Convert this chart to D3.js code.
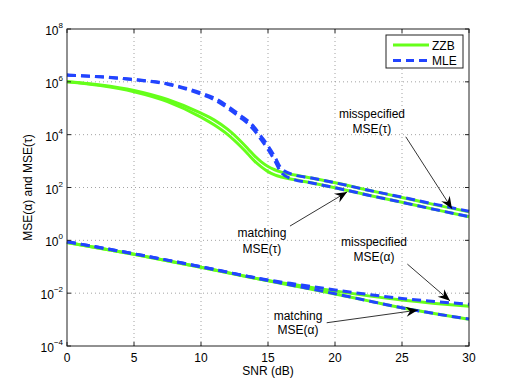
<!DOCTYPE html>
<html><head><meta charset="utf-8">
<script src="https://cdn.jsdelivr.net/npm/d3@7"></script>
<style>
body{margin:0;background:#fff;}
text{font-family:"Liberation Sans",Arial,Helvetica,sans-serif;fill:#000;}
</style>
</head><body>
<svg id="chart" width="518" height="390"></svg>
<script>
// ---------- data ----------
const snrTau = [0, 2.5, 5, 7.5, 10, 11, 12, 13, 13.5, 14, 14.5, 15, 15.5, 16, 17, 18, 20, 22.5, 25, 27.5, 30];
const zzbMisTau   = [1.0e6, 7.6e5, 4.7e5, 2.14e5, 6.5e4, 3.55e4, 1.58e4, 5.4e3, 2.95e3, 1.58e3, 9.3e2, 6.2e2, 4.7e2, 3.8e2, 2.95e2, 2.4e2, 1.51e2, 79, 42, 22, 12];
const zzbMatchTau = [1.0e6, 7.2e5, 4.2e5, 1.78e5, 4.6e4, 2.3e4, 1.0e4, 3.4e3, 1.86e3, 1.0e3, 6.0e2, 4.0e2, 3.0e2, 2.5e2, 1.95e2, 1.58e2, 98, 51, 27.5, 14.5, 7.8];
const mleMisTau   = [1.8e6, 1.55e6, 1.23e6, 8.5e5, 3.8e5, 2.45e5, 1.2e5, 5.1e4, 3.3e4, 1.86e4, 8.5e3, 3.8e3, 1.48e3, 5.2e2, 2.95e2, 2.4e2, 1.51e2, 79, 43, 23, 12.6];
const mleMatchTau = [1.8e6, 1.55e6, 1.2e6, 8.1e5, 3.4e5, 2.1e5, 1.0e5, 4.2e4, 2.6e4, 1.41e4, 6.3e3, 2.75e3, 1.05e3, 3.6e2, 1.95e2, 1.58e2, 98, 51, 27.5, 14.5, 7.9];

const snrAlpha = [0, 5, 10, 15, 17.5, 20, 22.5, 25, 27.5, 30];
const zzbMatchAlpha = [0.83, 0.295, 0.095, 0.0295, 0.0166, 0.0093, 0.0051, 0.0028, 0.00166, 0.00102];
const mleMatchAlpha = [0.89, 0.31, 0.10, 0.030, 0.017, 0.0095, 0.0051, 0.0028, 0.00166, 0.00105];
const zzbMisAlpha   = [0.83, 0.295, 0.095, 0.030, 0.019, 0.012, 0.0079, 0.0055, 0.0041, 0.0032];
const mleMisAlpha   = [0.89, 0.31, 0.10, 0.0316, 0.0204, 0.0132, 0.0089, 0.0063, 0.0048, 0.0038];

const xTicks = [0, 5, 10, 15, 20, 25, 30];
const yTickExps = [-4, -2, 0, 2, 4, 6, 8];
const legendNames = ["ZZB", "MLE"];

// annotations in data units: text anchor (snr, log10 of line centres) and arrow (from -> to)
const annoLines = [["misspecified", "MSE(\u03C4)"], ["matching", "MSE(\u03C4)"], ["misspecified", "MSE(\u03B1)"], ["matching", "MSE(\u03B1)"]];
const annoTextSnr = [22.76, 14.55, 22.91, 17.24];
const annoTextLog = [[4.78, 4.21], [0.28, -0.33], [-0.06, -0.63], [-2.87, -3.40]];
const annoFrom = [[25.28, 3.92], [16.64, 0.54], [25.4, -0.9], [19.38, -3.12]];
const annoTo   = [[28.73, 1.20], [20.9, 1.83], [28.58, -2.29], [26.19, -2.64]];

// ---------- layout ----------
const L = 67, R = 469, T = 29, B = 346;
const green = "#66ff1a", blue = "#2244ff";
const svg = d3.select("#chart");
const x = d3.scaleLinear().domain([0, 30]).range([L, R]);
const y = d3.scaleLog().domain([1e-4, 1e8]).range([B, T]);

// grid
const gridG = svg.append("g");
gridG.selectAll("line.vx").data(xTicks.slice(1, -1)).join("line")
  .attr("x1", d => x(d)).attr("x2", d => x(d)).attr("y1", T).attr("y2", B)
  .attr("stroke", "#8c8c8c").attr("stroke-width", 0.8).attr("stroke-dasharray", "1,3");
gridG.selectAll("line.hy").data(yTickExps.slice(1, -1)).join("line")
  .attr("x1", L).attr("x2", R).attr("y1", d => y(Math.pow(10, d))).attr("y2", d => y(Math.pow(10, d)))
  .attr("stroke", "#8c8c8c").attr("stroke-width", 0.8).attr("stroke-dasharray", "1,3");

// curves
const line = d3.line().x(d => x(d[0])).y(d => y(d[1])).curve(d3.curveMonotoneX);
const zip = (xs, ys) => xs.map((v, i) => [v, ys[i]]);
const curves = [
  {xs: snrTau, ys: zzbMisTau, c: green, dash: null},
  {xs: snrTau, ys: zzbMatchTau, c: green, dash: null},
  {xs: snrAlpha, ys: zzbMisAlpha, c: green, dash: null},
  {xs: snrAlpha, ys: zzbMatchAlpha, c: green, dash: null},
  {xs: snrTau, ys: mleMisTau, c: blue, dash: "9,5"},
  {xs: snrTau, ys: mleMatchTau, c: blue, dash: "9,5"},
  {xs: snrAlpha, ys: mleMisAlpha, c: blue, dash: "9,5"},
  {xs: snrAlpha, ys: mleMatchAlpha, c: blue, dash: "9,5"}
];
svg.append("g").selectAll("path").data(curves).join("path")
  .attr("d", d => line(zip(d.xs, d.ys)))
  .attr("fill", "none").attr("stroke", d => d.c).attr("stroke-width", 3)
  .attr("stroke-dasharray", d => d.dash);

// frame and ticks
const axG = svg.append("g");
axG.append("rect").attr("x", L).attr("y", T).attr("width", R - L).attr("height", B - T)
  .attr("fill", "none").attr("stroke", "#222").attr("stroke-width", 1);
const tl = 4;
axG.selectAll("line.bt").data(xTicks).join("line")
  .attr("x1", d => x(d)).attr("x2", d => x(d)).attr("y1", B).attr("y2", B - tl).attr("stroke", "#222");
axG.selectAll("line.tt").data(xTicks).join("line").attr("class", "tt")
  .attr("x1", d => x(d)).attr("x2", d => x(d)).attr("y1", T).attr("y2", T + tl).attr("stroke", "#222");
axG.selectAll("line.lt").data(yTickExps).join("line").attr("class", "lt")
  .attr("x1", L).attr("x2", L + tl).attr("y1", d => y(Math.pow(10, d))).attr("y2", d => y(Math.pow(10, d))).attr("stroke", "#222");
axG.selectAll("line.rt").data(yTickExps).join("line").attr("class", "rt")
  .attr("x1", R).attr("x2", R - tl).attr("y1", d => y(Math.pow(10, d))).attr("y2", d => y(Math.pow(10, d))).attr("stroke", "#222");

// tick labels
svg.append("g").selectAll("text").data(xTicks).join("text")
  .attr("x", d => x(d)).attr("y", B + 15.5).attr("text-anchor", "middle").attr("font-size", 12)
  .text(d => d);
const yl = svg.append("g").selectAll("text").data(yTickExps).join("text")
  .attr("x", L - 4).attr("y", d => y(Math.pow(10, d)) + 6).attr("text-anchor", "end").attr("font-size", 12);
yl.append("tspan").text("10");
yl.append("tspan").attr("font-size", 8).attr("dy", -7).text(d => d < 0 ? "\u2212" + Math.abs(d) : d);

// axis labels
svg.append("text").attr("x", (L + R) / 2).attr("y", 375).attr("text-anchor", "middle").attr("font-size", 12).text("SNR (dB)");
svg.append("text").attr("transform", `translate(32,${(T + B) / 2}) rotate(-90)`).attr("text-anchor", "middle")
  .attr("font-size", 12).text("MSE(\u03B1) and MSE(\u03C4)");

// legend
const lg = svg.append("g");
lg.append("rect").attr("x", 386).attr("y", 35).attr("width", 77).attr("height", 33)
  .attr("fill", "#fff").attr("stroke", "#222").attr("stroke-width", 1);
const legendStyles = [{c: green, dash: null}, {c: blue, dash: "8,5"}];
const li = lg.selectAll("g.it").data(legendNames).join("g").attr("transform", (d, i) => `translate(0,${45 + i * 15.5})`);
li.append("line").attr("x1", 393).attr("x2", 429).attr("y1", 0).attr("y2", 0)
  .attr("stroke", (d, i) => legendStyles[i].c).attr("stroke-width", 3).attr("stroke-dasharray", (d, i) => legendStyles[i].dash);
li.append("text").attr("x", 432).attr("y", 4.5).attr("font-size", 12).text(d => d);

// annotations
svg.append("defs").append("marker").attr("id", "ah").attr("markerUnits", "userSpaceOnUse")
  .attr("markerWidth", 16).attr("markerHeight", 16).attr("viewBox", "-14 -8 16 16").attr("refX", 0).attr("refY", 0)
  .attr("orient", "auto")
  .append("path").attr("d", "M0,0 L-12,-5 L-8,0 L-12,5 Z").attr("fill", "#000");
const an = svg.append("g");
an.selectAll("line").data(annoFrom).join("line")
  .attr("x1", d => x(d[0])).attr("y1", d => y(Math.pow(10, d[1])))
  .attr("x2", (d, i) => x(annoTo[i][0])).attr("y2", (d, i) => y(Math.pow(10, annoTo[i][1])))
  .attr("stroke", "#000").attr("stroke-width", 0.8).attr("marker-end", "url(#ah)");
annoLines.forEach((ls, i) => {
  ls.forEach((s, j) => {
    an.append("text").attr("x", x(annoTextSnr[i])).attr("y", y(Math.pow(10, annoTextLog[i][j])) + 4.3)
      .attr("text-anchor", "middle").attr("font-size", 12).text(s);
  });
});
</script>
</body></html>
